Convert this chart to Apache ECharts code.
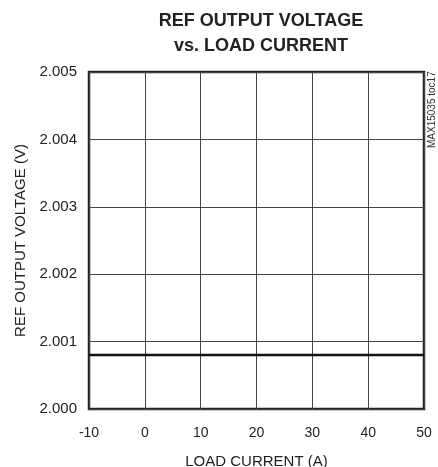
<!DOCTYPE html>
<html>
<head>
<meta charset="utf-8">
<script src="https://cdn.jsdelivr.net/npm/echarts@6/dist/echarts.min.js"></script>
<style>
html,body{margin:0;padding:0;background:#fff;}
#main{width:438px;height:467px;}
</style>
</head>
<body>
<div id="main"></div>
<script>
// load current (A) and measured ref voltage (V)
var loadCurrent = [-10, 0, 10, 20, 30, 40, 50];
var refVoltage = [2.0008, 2.0008, 2.0008, 2.0008, 2.0008, 2.0008, 2.0008];
var xTicks = [-10, 50, 10];   // min, max, step
var yTicks = [2.000, 2.005, 0.001];

var fnt = 'Liberation Sans, Arial, sans-serif';
var myChart = echarts.init(document.getElementById('main'));

var pts = [];
for (var i = 0; i < loadCurrent.length; i++) {
	pts.push([loadCurrent[i], refVoltage[i]]);
}

var option = {
	animation: false,
	title: {
		text: 'REF OUTPUT VOLTAGE\nvs. LOAD CURRENT',
		left: 256,
		textAlign: 'center',
		top: 4,
		textStyle: {
			fontFamily: fnt,
			fontWeight: 'bold',
			fontSize: 18,
			lineHeight: 25,
			color: '#222'
		}
	},
	grid: {
		left: 89,
		right: 14,
		top: 72,
		bottom: 58,
		outerBoundsMode: 'none',
		show: true,
		borderColor: '#222',
		borderWidth: 2.5
	},
	xAxis: {
		type: 'value',
		min: xTicks[0],
		max: xTicks[1],
		interval: xTicks[2],
		name: 'LOAD CURRENT (A)',
		nameLocation: 'middle',
		nameGap: 45,
		nameTextStyle: {fontFamily: fnt, fontSize: 15, color: '#222'},
		axisLine: {show: false},
		axisTick: {show: false},
		axisLabel: {fontFamily: fnt, fontSize: 14, color: '#222', margin: 17},
		splitLine: {lineStyle: {color: '#444', width: 1}}
	},
	yAxis: {
		type: 'value',
		min: yTicks[0],
		max: yTicks[1],
		interval: yTicks[2],
		name: 'REF OUTPUT VOLTAGE (V)',
		nameLocation: 'middle',
		nameGap: 51,
		nameTextStyle: {fontFamily: fnt, fontSize: 15, color: '#222'},
		axisLine: {show: false},
		axisTick: {show: false},
		axisLabel: {
			fontFamily: fnt, fontSize: 15, color: '#222', margin: 12,
			formatter: function (v) { return v.toFixed(3); }
		},
		splitLine: {lineStyle: {color: '#444', width: 1}}
	},
	graphic: [{
		type: 'text',
		x: 432,
		y: 148,
		rotation: Math.PI / 2,
		style: {
			text: 'MAX15035 toc17',
			fontFamily: fnt,
			fontSize: 10,
			fill: '#333',
			align: 'left',
			verticalAlign: 'middle'
		}
	}],
	series: [{
		type: 'line',
		data: pts,
		symbol: 'none',
		lineStyle: {color: '#111', width: 2.5}
	}]
};

myChart.setOption(option);
</script>
</body>
</html>
